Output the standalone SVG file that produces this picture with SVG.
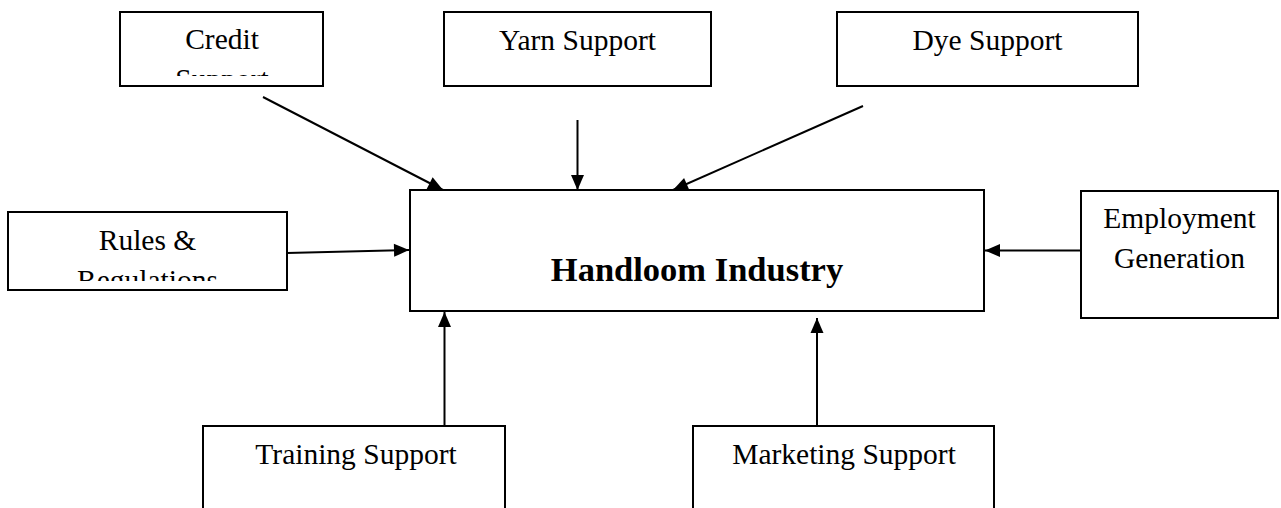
<svg xmlns="http://www.w3.org/2000/svg" width="1281" height="508" viewBox="0 0 1281 508">
<style>
.box{fill:#fff;stroke:#000;stroke-width:2}
.t{font-family:"Liberation Serif","Times New Roman",serif;font-size:29.5px;fill:#000;text-anchor:middle}
.b{font-family:"Liberation Serif","Times New Roman",serif;font-size:34.5px;font-weight:bold;fill:#000;text-anchor:middle}
.c{fill:none;stroke:#000;stroke-width:2;marker-end:url(#ah)}
</style>
<defs>
<marker id="ah" markerUnits="userSpaceOnUse" markerWidth="16" markerHeight="14" refX="15" refY="6.5" orient="auto" overflow="visible">
<path d="M0,0 L15,6.5 L0,13 z" fill="#000"/>
</marker>
<clipPath id="clipCredit"><rect x="121" y="13" width="201" height="63"/></clipPath>
<clipPath id="clipRules"><rect x="9" y="213" width="277" height="68"/></clipPath>
</defs>
<rect width="1281" height="508" fill="#fff"/>
<g id="connectors">
<line class="c" x1="263" y1="97" x2="443" y2="190"/>
<line class="c" x1="577.5" y1="120" x2="577.5" y2="190"/>
<line class="c" x1="863" y1="106" x2="673" y2="190"/>
<line class="c" x1="287" y1="253" x2="409" y2="250"/>
<line class="c" x1="1081" y1="250.5" x2="985" y2="250.5"/>
<line class="c" x1="444.5" y1="426" x2="444.5" y2="312"/>
<line class="c" x1="817" y1="426" x2="817" y2="318"/>
</g>
<g id="handloom">
<rect class="box" x="410" y="190" width="574" height="121"/>
<text class="b" x="697" y="281">Handloom Industry</text>
</g>
<g id="credit">
<rect class="box" x="120" y="12" width="203" height="74"/>
<g clip-path="url(#clipCredit)">
<text class="t" x="222" y="49">Credit</text>
<text class="t" x="222" y="89">Support</text>
</g>
</g>
<g id="yarn">
<rect class="box" x="444" y="12" width="267" height="74"/>
<text class="t" x="577.5" y="50">Yarn Support</text>
</g>
<g id="dye">
<rect class="box" x="837" y="12" width="301" height="74"/>
<text class="t" x="987.5" y="50">Dye Support</text>
</g>
<g id="rules">
<rect class="box" x="8" y="212" width="279" height="78"/>
<g clip-path="url(#clipRules)">
<text class="t" x="147.5" y="250">Rules &amp;</text>
<text class="t" x="147.5" y="290">Regulations</text>
</g>
</g>
<g id="employment">
<rect class="box" x="1081" y="191" width="197" height="127"/>
<text class="t" x="1179.5" y="228">Employment</text>
<text class="t" x="1179.5" y="268">Generation</text>
</g>
<g id="training">
<rect class="box" x="203" y="426" width="302" height="100"/>
<text class="t" x="356" y="464">Training Support</text>
</g>
<g id="marketing">
<rect class="box" x="693" y="426" width="301" height="100"/>
<text class="t" x="844" y="463.5">Marketing Support</text>
</g>
</svg>
